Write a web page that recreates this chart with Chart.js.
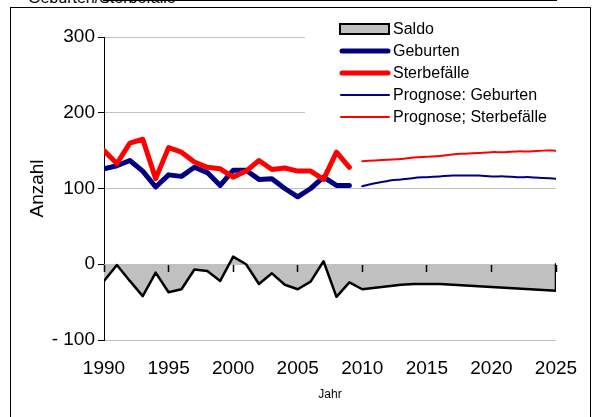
<!DOCTYPE html>
<html><head><meta charset="utf-8">
<script src="https://cdn.jsdelivr.net/npm/chart.js@4"></script>
<style>
html,body{margin:0;padding:0;background:#fff;overflow:hidden}
#wrap{position:relative;width:600px;height:417px;overflow:hidden;background:#fff}
#frame{position:absolute;left:10px;top:7px;width:581px;height:430px;border:1px solid #000;box-sizing:border-box}
#ttl{position:absolute;left:28px;top:-10px;font:16px 'Liberation Sans',Arial,sans-serif;line-height:16px;white-space:nowrap;color:#000}
canvas{position:absolute;left:0;top:0}
</style></head><body>
<div id="wrap"><div id="frame"></div><div id="ttl">Geburten/Sterbefälle</div><canvas id="c" width="600" height="417"></canvas></div>
<script>
// ---- data ----
const years = [1990,1991,1992,1993,1994,1995,1996,1997,1998,1999,2000,2001,2002,2003,2004,2005,2006,2007,2008,2009];
const geburten = [126,130,137,123,102,118,116,128,121,104,124,124,112,113,100,89,100,115,104,104];
const sterbefaelle = [150,133,160,165,113,154,148,135,128,126,115,123,137,125,127,123,123,112,148,128];
const saldoHist = [-22,-1,-22,-42,-11,-37,-33,-7,-9,-22,10,0,-26,-12,-27,-33,-23,4,-43,-24];
const progYears = [2010,2011,2012,2013,2014,2015,2016,2017,2018,2019,2020,2021,2022,2023,2024,2025];
const progGeburten = [103,107,110,112,114,115,116,117,117,117,116,116,115,115,114,113];
const progSterbefaelle = [136,137,138,139,141,142,143,145,146,147,148,148,149,149,150,150];
const progSaldo = [-33,-31,-29,-27,-26,-26,-26,-27,-28,-29,-30,-31,-32,-33,-34,-35];
const xTickValues = [1990,1995,2000,2005,2010,2015,2020,2025];
const xTickLabels = ['1990','1995','2000','2005','2010','2015','2020','2025'];
const yTickValues = [-100,0,100,200,300];
const yTickLabels = ['- 100','0','100','200','300'];
const legendLabels = ['Saldo','Geburten','Sterbefälle','Prognose: Geburten','Prognose; Sterbefälle'];

const FONT = "'Liberation Sans', Arial, sans-serif";
Chart.defaults.color = '#000';
Chart.defaults.font.family = FONT;

const pts = (xs, ys) => xs.map((x, i) => ({x: x, y: ys[i]}));
const allYears = years.concat(progYears);
const allSaldo = saldoHist.concat(progSaldo);
const lastYear = allYears[allYears.length - 1];
const lastSaldo = allSaldo[allSaldo.length - 1];

const NAVY = '#000080', RED = '#ff0000', GRAY = '#c0c0c0';

const datasets = [
  {label: legendLabels[2], data: pts(years, sterbefaelle), borderColor: RED, borderWidth: 5, legendKind: 'thick'},
  {label: legendLabels[1], data: pts(years, geburten), borderColor: NAVY, borderWidth: 5, legendKind: 'thick'},
  {label: legendLabels[4], data: pts(progYears, progSterbefaelle), borderColor: RED, borderWidth: 2, tension: 0.3, legendKind: 'thin'},
  {label: legendLabels[3], data: pts(progYears, progGeburten), borderColor: NAVY, borderWidth: 2, tension: 0.3, legendKind: 'thin'},
  {label: '_edge', data: [{x: lastYear, y: 0}, {x: lastYear, y: lastSaldo}], borderColor: '#000', borderWidth: 2.5, fill: false},
  {label: legendLabels[0], data: pts(allYears, allSaldo), borderColor: '#000', borderWidth: 2.5, backgroundColor: GRAY, fill: 'origin', legendKind: 'area'}
].map(d => Object.assign({pointRadius: 0, pointHoverRadius: 0, borderCapStyle: 'round', borderJoinStyle: 'round', fill: d.fill === undefined ? false : d.fill, tension: d.tension || 0}, d));

const insetLegend = {
  id: 'insetLegend',
  afterDatasetsDraw(chart) {
    const ctx = chart.ctx;
    ctx.save();
    ctx.fillStyle = '#fff';
    ctx.fillRect(305, 14, chart.chartArea.right - 305 + 1, 116);
    ctx.font = '16px ' + FONT;
    ctx.textBaseline = 'middle';
    ctx.textAlign = 'left';
    legendLabels.forEach((lab, r) => {
      const ds = chart.data.datasets.find(d => d.label === lab);
      const y = 29 + r * 22;
      if (ds.legendKind === 'area') {
        ctx.fillStyle = ds.backgroundColor;
        ctx.fillRect(340, y - 5, 49, 10);
        ctx.strokeStyle = ds.borderColor; ctx.lineWidth = 2;
        ctx.strokeRect(340, y - 5, 49, 10);
      } else {
        ctx.strokeStyle = ds.borderColor; ctx.lineWidth = ds.borderWidth;
        ctx.lineCap = 'round';
        ctx.beginPath();
        const inset = ds.legendKind === 'thick' ? 2 : 1;
        ctx.moveTo(340 + inset, y); ctx.lineTo(390 - inset, y); ctx.stroke();
      }
      ctx.fillStyle = '#000';
      ctx.fillText(lab, 393, y + 1);
    });
    ctx.restore();
  }
};

new Chart(document.getElementById('c'), {
  type: 'line',
  data: {datasets: datasets},
  plugins: [insetLegend],
  options: {
    responsive: false, animation: false, devicePixelRatio: 1,
    layout: {padding: {left: 10, top: 37, right: 44, bottom: 0}},
    plugins: {legend: {display: false}, tooltip: {enabled: false}, title: {display: false}},
    scales: {
      x: {
        type: 'linear', position: 'bottom', min: 1990, max: 2025,
        afterFit(s) { s.height = 77; },
        afterBuildTicks(s) { s.ticks = xTickValues.map(v => ({value: v})); },
        ticks: {autoSkip: false, maxRotation: 0, padding: 17, font: {size: 19},
          callback: (v) => xTickLabels[xTickValues.indexOf(v)]},
        grid: {display: false, drawTicks: false},
        border: {display: false},
        title: {display: true, text: 'Jahr', font: {size: 12}, padding: {top: 0, bottom: 15}}
      },
      x0: {
        type: 'linear', position: {y: 0}, min: 1990, max: 2025,
        afterBuildTicks(s) { s.ticks = xTickValues.map(v => ({value: v})); },
        ticks: {display: true, autoSkip: false, maxRotation: 0, color: 'rgba(0,0,0,0)', font: {size: 1}, padding: 0,
          callback: () => ''},
        grid: {display: true, drawOnChartArea: false, drawTicks: true, tickLength: 7, color: '#000', tickColor: '#000', lineWidth: 1, tickWidth: 1.5, z: 2},
        border: {display: true, color: '#000', width: 2, z: 1}
      },
      y: {
        type: 'linear', position: 'left', min: -100, max: 300,
        afterFit(s) { s.width = 94; },
        afterBuildTicks(s) { s.ticks = yTickValues.map(v => ({value: v})); },
        ticks: {padding: 3, font: {size: 19},
          callback: (v) => yTickLabels[yTickValues.indexOf(v)]},
        grid: {color: GRAY, lineWidth: 1, tickColor: '#000', tickLength: 6, drawTicks: true},
        border: {display: true, color: '#000', width: 1},
        title: {display: true, text: 'Anzahl', font: {size: 19}, padding: {top: 16, bottom: 0}}
      }
    }
  }
});
</script>
</body></html>
